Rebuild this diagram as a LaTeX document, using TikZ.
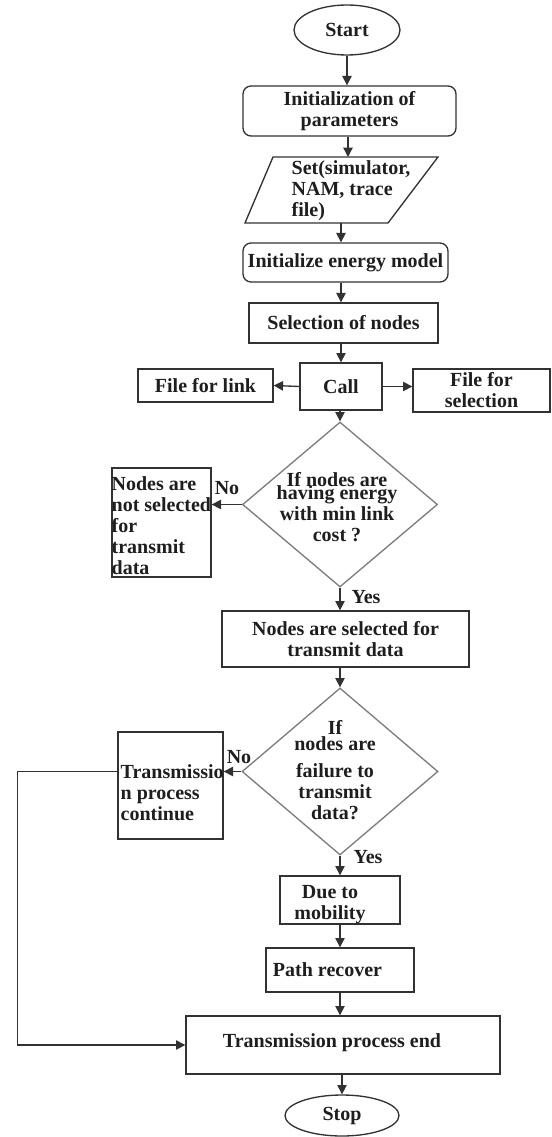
\documentclass[tikz,border=0pt]{standalone}
\usepackage{fontspec}
\setmainfont{Liberation Serif}
\usetikzlibrary{shapes.geometric,arrows.meta}

\definecolor{linegray}{RGB}{50,50,50}
\definecolor{diagray}{RGB}{125,125,125}
\definecolor{inkgray}{RGB}{30,30,30}

\tikzset{every picture/.style={line width=1pt}}
\tikzset{
  txt/.style={inner sep=0pt, text=inkgray, align=center, font=\fontsize{15}{15.75}\selectfont\bfseries},
  boxnode/.style={txt, draw=linegray, rectangle},
  roundbox/.style={boxnode, rounded corners=6pt},
  terminal/.style={txt, draw=linegray, ellipse},
  decision/.style={draw=diagray, diamond, inner sep=0pt},
  flowarrow/.style={draw=linegray, -{Triangle[length=7pt,width=7pt]}}
}

\begin{document}
\begin{tikzpicture}[x=0.75pt,y=0.75pt,yscale=-1,xscale=1]
	\useasboundingbox (0,0) rectangle (552,1137);

	%Shape: Ellipse
	\node[terminal, minimum width=79.5pt, minimum height=37.5pt] (start) at (347,30) {Start};
	%Shape: Rounded Rect
	\node[roundbox, minimum width=159.75pt, minimum height=37.5pt] (init) at (349.5,111) {Initialization of\\parameters};
	%Shape: Parallelogram
	\draw[linegray] (273,157) -- (438,157) -- (388,223) -- (245,223) -- cycle;
	\coordinate (setin) at (348,157);
	\coordinate (setout) at (341,223);
	% Text Node
	\node[txt, align=left] (set) at (351,191) {Set(simulator,\\NAM, trace\\file)};
	%Shape: Rounded Rect
	\node[roundbox, minimum width=153.75pt, minimum height=29.25pt] (energy) at (345.5,262.5) {Initialize energy model};
	%Shape: Rectangle
	\node[boxnode, minimum width=141.75pt, minimum height=30pt] (select) at (343.5,323) {Selection of nodes};
	\node[boxnode, minimum width=61.5pt, minimum height=35.25pt] (call) at (341,386.5) {Call};
	\node[boxnode, minimum width=101.25pt, minimum height=24.75pt] (link) at (205.5,385.5) {File for link};
	\node[boxnode, minimum width=102.75pt, minimum height=32.25pt] (filesel) at (481.5,390.5) {File for\\selection};

	%Shape: Diamond
	\node[decision, minimum width=146.25pt, minimum height=123.75pt] (dec1) at (340,504.5) {};
	% Text Node
	\node[txt] (dec1txt) at (337,507) {If nodes are\\[-6pt]having energy\\with min link\\cost ?};
	%Shape: Rectangle
	\node[boxnode, minimum width=74.25pt, minimum height=81.75pt] (nosel) at (161.5,522.5) {};
	% Text Node
	\node[txt, align=left, anchor=west] (noseltxt) at (111,525.5) {Nodes are\\not selected\\for\\transmit\\data};
	%Shape: Rectangle
	\node[boxnode, minimum width=185.25pt, minimum height=42pt] (sel2) at (345.5,639) {Nodes are selected for\\transmit data};

	%Shape: Diamond
	\node[decision, minimum width=147pt, minimum height=125.25pt] (dec2) at (340,771.5) {};
	% Text Node
	\node[txt] (dec2txt) at (335,770) {If\\[-3.5pt]nodes are\\[4.5pt]failure to\\transmit\\data?};
	%Shape: Rectangle
	\node[boxnode, minimum width=78.75pt, minimum height=80.25pt] (cont) at (170.5,785.5) {};
	% Text Node
	\node[txt, align=left, anchor=west] (conttxt) at (120,793) {Transmissio\\n process\\continue};
	%Shape: Rectangle
	\node[boxnode, minimum width=90pt, minimum height=36pt] (due) at (340,900) {};
	% Text Node
	\node[txt] (duetxt) at (330,904.5) {Due to\\mobility};
	%Shape: Rectangle
	\node[boxnode, minimum width=111pt, minimum height=33pt] (path) at (340,970) {};
	% Text Node
	\node[txt] (pathtxt) at (327.5,970) {Path recover};
	%Shape: Rectangle
	\node[boxnode, minimum width=235.5pt, minimum height=43.5pt] (endbox) at (343,1045) {};
	% Text Node
	\node[txt] (endtxt) at (332,1043) {Transmission process end};
	%Shape: Ellipse
	\node[terminal, minimum width=85.5pt, minimum height=30.75pt] (stop) at (342,1115.5) {Stop};

	% Text Node
	\node[txt] (no1) at (227,488) {No};
	\node[txt] (yes1) at (366,597) {Yes};
	\node[txt] (no2) at (239,757) {No};
	\node[txt] (yes2) at (368,857) {Yes};

	%Straight Lines
	\draw[flowarrow] (start.south) -- (start.south |- init.north);
	\draw[flowarrow] (init.south -| setin) -- (setin);
	\draw[flowarrow] (setout) -- (setout |- energy.north);
	\draw[flowarrow] (energy.south -| call) -- (select.north -| call);
	\draw[flowarrow] (select.south -| call) -- (call.north);
	\draw[flowarrow] (call.west) -- (link.east);
	\draw[flowarrow] (call.east) -- (call.east -| filesel.west);
	\draw[flowarrow] (call.south -| dec1.north) -- (dec1.north);
	\draw[flowarrow] (dec1.west) -- (dec1.west -| nosel.east);
	\draw[flowarrow] (dec1.south) -- (dec1.south |- sel2.north);
	\draw[flowarrow] (sel2.south -| dec2.north) -- (dec2.north);
	\draw[flowarrow] (dec2.west) -- (dec2.west -| cont.east);
	\draw[flowarrow] (cont.west |- dec2.west) -- ++(-100,0) |- (endbox.west);
	\draw[flowarrow] (dec2.south) -- (dec2.south |- due.north);
	\draw[flowarrow] (due.south) -- (due.south |- path.north);
	\draw[flowarrow] (path.south) -- (path.south |- endbox.north);
	\draw[flowarrow] (endbox.south -| stop.north) -- (stop.north);

\end{tikzpicture}
\end{document}
